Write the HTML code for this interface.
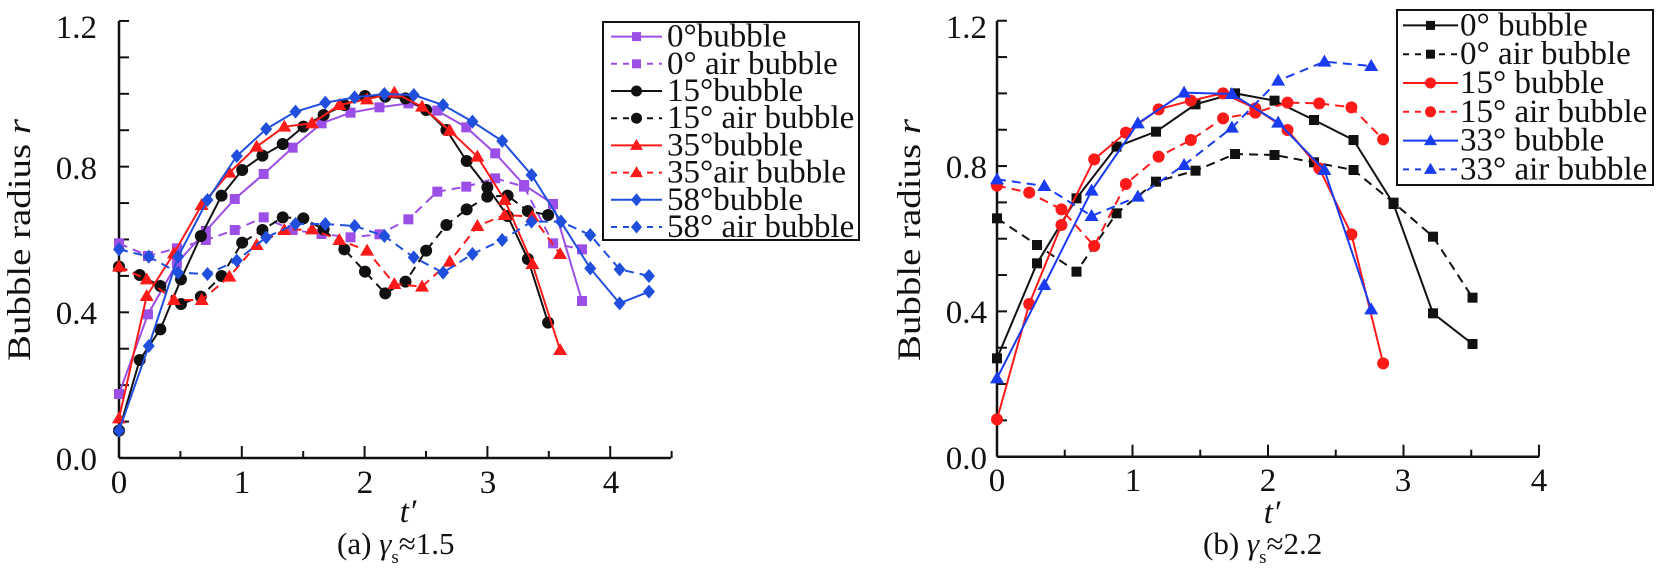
<!DOCTYPE html>
<html><head><meta charset="utf-8"><style>
html,body{margin:0;padding:0;background:#fff;}
svg{display:block;}
text{font-family:"Liberation Serif","DejaVu Serif",serif;}
</style></head><body>
<svg id="s" width="1656" height="575" xmlns="http://www.w3.org/2000/svg" font-family="Liberation Serif, DejaVu Serif, serif">
<rect width="1656" height="575" fill="#fff"/>
<g id="g"></g>
<g font-size="33" fill="#111" font-family="Liberation Serif, serif">
<text x="97" y="38" text-anchor="end">1.2</text>
<text x="97" y="179" text-anchor="end">0.8</text>
<text x="97" y="324" text-anchor="end">0.4</text>
<text x="97" y="470" text-anchor="end">0.0</text>
<text x="119" y="493" text-anchor="middle">0</text>
<text x="242" y="493" text-anchor="middle">1</text>
<text x="365" y="493" text-anchor="middle">2</text>
<text x="488" y="493" text-anchor="middle">3</text>
<text x="611" y="493" text-anchor="middle">4</text>
<text x="408" y="522" font-style="italic" text-anchor="middle">t′</text>
<text x="337" y="554" font-size="31">(a) <tspan font-style="italic">γ</tspan><tspan font-size="19" dy="9">s</tspan><tspan dy="-9">≈1.5</tspan></text>
<text transform="translate(30,240) rotate(-90)" text-anchor="middle" textLength="242" lengthAdjust="spacingAndGlyphs">Bubble radius <tspan font-style="italic">r</tspan></text>

<text x="987" y="38" text-anchor="end">1.2</text>
<text x="987" y="178" text-anchor="end">0.8</text>
<text x="987" y="323" text-anchor="end">0.4</text>
<text x="987" y="469" text-anchor="end">0.0</text>
<text x="997" y="491" text-anchor="middle">0</text>
<text x="1133" y="491" text-anchor="middle">1</text>
<text x="1268" y="491" text-anchor="middle">2</text>
<text x="1403" y="491" text-anchor="middle">3</text>
<text x="1539" y="491" text-anchor="middle">4</text>
<text x="1272" y="523" font-style="italic" text-anchor="middle">t′</text>
<text x="1203" y="554" font-size="31">(b) <tspan font-style="italic">γ</tspan><tspan font-size="19" dy="9">s</tspan><tspan dy="-9">≈2.2</tspan></text>
<text transform="translate(920,240) rotate(-90)" text-anchor="middle" textLength="242" lengthAdjust="spacingAndGlyphs">Bubble radius <tspan font-style="italic">r</tspan></text>
</g>
</svg>
<script>
const NS="http://www.w3.org/2000/svg";const G=document.getElementById('g');
function el(t,a){const e=document.createElementNS(NS,t);for(const k in a)e.setAttribute(k,a[k]);G.appendChild(e);return e;}
function marker(shape,x,y,c,s){s=s||6;
 if(shape=='sq')el('rect',{x:x-s+1,y:y-s+1,width:2*s-2,height:2*s-2,fill:c});
 else if(shape=='ci')el('circle',{cx:x,cy:y,r:s,fill:c});
 else if(shape=='tr')el('polygon',{points:`${x},${y-s-1} ${x+s+1},${y+s-1} ${x-s-1},${y+s-1}`,fill:c});
 else if(shape=='di')el('polygon',{points:`${x},${y-s-1} ${x+s},${y} ${x},${y+s+1} ${x-s},${y}`,fill:c});}
function series(pts,fx,fy,c,dash,shape){const P=pts.map(p=>[fx(p[0]),fy(p[1])]);
 el('polyline',{points:P.map(p=>p.join(',')).join(' '),fill:'none',stroke:c,'stroke-width':2,'stroke-dasharray':dash?'9,6':'none'});
 P.forEach(p=>marker(shape,p[0],p[1],c));}
function axes(x0,x1,y0,y1,xu,yu,xmax){
 el('line',{x1:x0,y1:y1,x2:x0,y2:y0,stroke:'#111','stroke-width':2.5});
 el('line',{x1:x0,y1:y0,x2:x1,y2:y0,stroke:'#111','stroke-width':2.5});
 for(let i=0;i<=12;i++){const y=y0-i*yu;el('line',{x1:x0,y1:y,x2:x0+10,y2:y,stroke:'#111','stroke-width':2});}
 for(let i=1;i<=xmax*2;i++){const x=x0+i*xu/2;el('line',{x1:x,y1:y0,x2:x,y2:y0-(i%2?7:12),stroke:'#111','stroke-width':2});}}
axes(119,671,458,21,122.8,36.42,4.5);
axes(997,1539,456.7,21,135.5,36.33,4);
const lx=z=>119+(z-285)*0.4134, ly=z=>z/3;
const P='#9b4fe6',K='#111',R='#ff1a1a',B='#1f4fdc';
series([[285,1182],[355,943],[425,790],[495,693],[565,597],[635,522],[705,443],[775,370],[845,338],[915,322],[985,310],[1055,332],[1125,382],[1195,460],[1265,555],[1335,612],[1405,903]],lx,ly,P,0,'sq');
series([[285,730],[355,768],[425,745],[495,720],[565,690],[635,652],[705,690],[775,702],[845,712],[915,703],[985,658],[1055,575],[1125,560],[1195,535],[1265,560],[1335,730],[1405,748]],lx,ly,P,1,'sq');
series([[285,1292],[335,1080],[385,988],[435,838],[483,708],[533,587],[583,510],[632,467],[681,432],[731,380],[780,345],[830,315],[880,288],[929,290],[978,295],[1028,330],[1077,390],[1126,483],[1176,562],[1225,648],[1274,777],[1323,968]],lx,ly,K,0,'ci');
series([[285,800],[335,825],[385,858],[435,912],[483,890],[533,828],[583,728],[632,690],[681,652],[731,655],[780,688],[830,748],[880,815],[929,880],[978,845],[1028,752],[1077,675],[1126,628],[1176,590],[1225,587],[1274,633],[1323,645]],lx,ly,K,1,'ci');
series([[285,800],[352,838],[418,900],[485,900],[552,830],[618,735],[685,690],[752,688],[818,720],[885,752],[951,852],[1018,860],[1085,785],[1152,678],[1218,645],[1285,650],[1352,762]],lx,ly,R,1,'tr');
series([[285,1255],[352,888],[418,760],[485,615],[552,518],[618,440],[685,380],[752,370],[818,315],[885,298],[951,278],[1018,320],[1085,392],[1152,470],[1218,600],[1285,792],[1352,1050]],lx,ly,R,0,'tr');
series([[285,748],[357,770],[428,818],[499,822],[570,782],[641,712],[712,672],[784,672],[855,678],[927,708],[998,772],[1069,818],[1140,762],[1212,720],[1283,665],[1354,665],[1425,705],[1496,808],[1567,828]],lx,ly,B,1,'di');
series([[285,1292],[357,1038],[428,770],[499,600],[570,468],[641,387],[712,335],[784,308],[855,292],[927,282],[998,285],[1069,315],[1140,365],[1212,423],[1283,525],[1354,665],[1425,805],[1496,910],[1567,875]],lx,ly,B,0,'di');
const rx=z=>997+(z-300)*0.5197, ry=z=>z/3;
const R2='#ff1a1a',B2='#1a3cf0';
series([[300,655],[377,735],[453,815],[530,640],[606,545],[682,512],[758,462],[834,465],[910,487],[986,510],[1063,608],[1139,710],[1215,893]],rx,ry,K,1,'sq');
series([[300,1075],[377,790],[453,595],[530,440],[606,395],[682,313],[758,280],[834,302],[910,360],[986,420],[1063,612],[1139,940],[1215,1032]],rx,ry,K,0,'sq');
series([[300,557],[362,578],[424,628],[487,738],[548,552],[611,470],[673,420],[735,355],[797,338],[859,308],[920,310],[982,322],[1043,418]],rx,ry,R2,1,'ci');
series([[300,1258],[362,912],[424,675],[487,478],[548,398],[611,328],[673,302],[735,280],[797,325],[859,390],[920,505],[982,703],[1043,1090]],rx,ry,R2,0,'ci');
series([[300,538],[391,558],[482,648],[571,590],[660,495],[752,383],[841,242],[930,185],[1020,198]],rx,ry,B2,1,'tr');
series([[300,1135],[391,855],[482,572],[571,370],[660,278],[752,282],[841,368],[930,510],[1020,928]],rx,ry,B2,0,'tr');
function legend(x,y,w,h,rh,items,tx,lx0,lx1,fs){
 el('rect',{x:x,y:y,width:w,height:h,fill:'#fff',stroke:'#111','stroke-width':2});
 items.forEach((it,i)=>{const cy=y+rh*(i+0.5)+1;
  el('line',{x1:lx0,y1:cy,x2:lx1,y2:cy,stroke:it[1],'stroke-width':2,'stroke-dasharray':it[2]?'6,6':'none'});
  marker(it[3],(lx0+lx1)/2,cy,it[1],5.5);
  const t=el('text',{x:tx,y:cy+10,'font-size':fs,fill:'#111','font-family':'Liberation Serif, serif'});t.textContent=it[0];});}
legend(603,22,256,218,27.2,[['0°bubble',P,0,'sq'],['0° air bubble',P,1,'sq'],['15°bubble',K,0,'ci'],['15° air bubble',K,1,'ci'],['35°bubble',R,0,'tr'],['35°air bubble',R,1,'tr'],['58°bubble',B,0,'di'],['58° air bubble',B,1,'di']],667,611,662,33);
legend(1397,10,256,175,28.8,[['0° bubble',K,0,'sq'],['0° air bubble',K,1,'sq'],['15° bubble',R2,0,'ci'],['15° air bubble',R2,1,'ci'],['33° bubble',B2,0,'tr'],['33° air bubble',B2,1,'tr']],1460,1403,1458,33);
</script>
</body></html>
